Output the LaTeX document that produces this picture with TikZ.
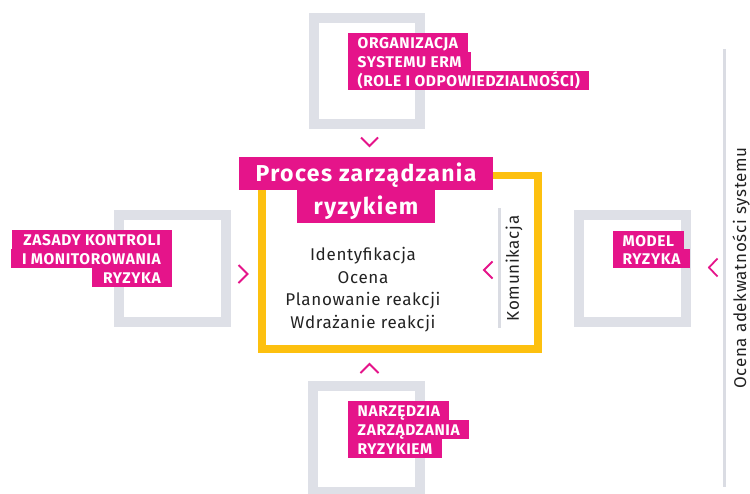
\documentclass[tikz,border=0pt]{standalone}
\usepackage{fontspec}
\setmainfont{Fira Sans}
\newfontfamily\erlabfont{Fira Sans}[LetterSpace=4]
\newfontfamily\ertitfont{Fira Sans}[LetterSpace=6]
\newfontfamily\erbodyfont{Fira Sans}[LetterSpace=4]
\definecolor{erpink}{HTML}{E5148A}
\definecolor{ergray}{HTML}{DEE0E7}
\definecolor{erline}{HTML}{DADCE3}
\definecolor{eryellow}{HTML}{FDC00F}
\definecolor{ertext}{HTML}{222222}
\tikzset{
  lab/.style={fill=erpink, text=white, font=\erlabfont\fontsize{15.5}{19}\selectfont\bfseries,
    inner xsep=9.5pt, inner ysep=0pt, minimum height=19pt, text height=10.7pt, text depth=0pt},
  titlab/.style={fill=erpink, text=white, font=\ertitfont\fontsize{23}{33}\selectfont\bfseries,
    inner xsep=17pt, inner ysep=0pt, minimum height=33pt, text height=16pt, text depth=0pt},
  frame/.style={draw=ergray, line width=10pt},
  chev/.style={draw=erpink, line width=1.8pt},
  body/.style={text=ertext, font=\erbodyfont\fontsize{17}{22}\selectfont, anchor=base},
  vtext/.style={text=ertext, font=\erbodyfont\fontsize{17}{20}\selectfont, rotate=90},
  vline/.style={draw=erline, line width=3pt}
}
\begin{document}
\begin{tikzpicture}[x=1pt,y=-1pt]
\useasboundingbox (0,0) rectangle (750,493);
\clip (0,0) rectangle (750,493);
% gray squares
\draw[frame] (314,18) rectangle (420,124);
\draw[frame] (119,215) rectangle (226,322);
\draw[frame] (579,215) rectangle (686,322);
\draw[frame] (313,386) rectangle (420,492);
% yellow frame
\draw[draw=eryellow, line width=7.5pt] (262,175.5) rectangle (538,349);
% title
\node[titlab, anchor=north] (t1) at (366,157) {Proces zarządzania};
\node[titlab, anchor=north] (t2) at (366,190) {ryzykiem};
% body text
\node[body] (i1) at (363,260) {Identyfikacja};
\node[body] (i2) at (363,283) {Ocena};
\node[body] (i3) at (363,305.5) {Planowanie reakcji};
\node[body] (i4) at (363,328) {Wdrażanie reakcji};
% komunikacja
\draw[vline] (499,208) -- (499,328);
\node[vtext] (kom) at (514,268.5) {Komunikacja};
% right line and text
\draw[vline] (724,49) -- (724,487);
\node[vtext] (oc) at (741,268) {Ocena adekwatności systemu};
% top label
\node[lab, anchor=north west] (o1) at (348,33) {ORGANIZACJA};
\node[lab, anchor=north west] (o2) at (348,52) {SYSTEMU ERM};
\node[lab, anchor=north west] (o3) at (348,71) {(ROLE I ODPOWIEDZIALNOŚCI)};
% left label
\node[lab, anchor=north east, inner xsep=11pt] (z1) at (172,230) {ZASADY KONTROLI};
\node[lab, anchor=north east, inner xsep=11pt] (z2) at (172,249) {I MONITOROWANIA};
\node[lab, anchor=north east, inner xsep=11pt] (z3) at (172,268) {RYZYKA};
% right label
\node[lab, anchor=north west] (m1) at (613,231) {MODEL};
\node[lab, anchor=north west] (m2) at (613,249) {RYZYKA};
% bottom label
\node[lab, anchor=north west] (n1) at (348,401) {NARZĘDZIA};
\node[lab, anchor=north west] (n2) at (348,420) {ZARZĄDZANIA};
\node[lab, anchor=north west] (n3) at (348,439) {RYZYKIEM};
% chevrons
\draw[chev] (361,137.5) -- (369.5,146) -- (378,137.5);
\draw[chev] (238.5,265) -- (247.5,274) -- (238.5,283);
\draw[chev] (492.5,261.5) -- (484,270) -- (492.5,278.5);
\draw[chev] (717.5,258.5) -- (709,267.5) -- (717.5,276.5);
\draw[chev] (360.5,373) -- (369.5,364) -- (378.5,373);
\end{tikzpicture}
\end{document}
